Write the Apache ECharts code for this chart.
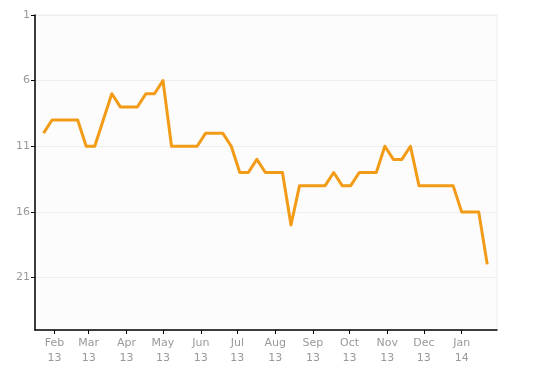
<!DOCTYPE html>
<html>
<head>
<meta charset="utf-8">
<script src="https://cdn.jsdelivr.net/npm/echarts@6/dist/echarts.min.js"></script>
<style>
  html, body { margin: 0; padding: 0; background: #ffffff; }
  #chart { width: 535px; height: 372px; }
</style>
</head>
<body>
<div id="chart"></div>
<script>
// Weekly dates (first week) and ranks
const startDate = '2013-01-23';
const ranks = [10, 9, 9, 9, 9, 11, 11, 9, 7, 8, 8, 8, 7, 7, 6, 11, 11, 11, 11, 10,
               10, 10, 11, 13, 13, 12, 13, 13, 13, 17, 14, 14, 14, 14, 13, 14, 14, 13, 13, 13,
               11, 12, 12, 11, 14, 14, 14, 14, 14, 16, 16, 16, 20];
const yTicks = [1, 6, 11, 16, 21];
const monthTickDates = ['2013-02-01', '2013-03-01', '2013-04-01', '2013-05-01', '2013-06-01', '2013-07-01',
                        '2013-08-01', '2013-09-01', '2013-10-01', '2013-11-01', '2013-12-01', '2014-01-01'];
const monthLabels = ['Feb\n13', 'Mar\n13', 'Apr\n13', 'May\n13', 'Jun\n13', 'Jul\n13',
                     'Aug\n13', 'Sep\n13', 'Oct\n13', 'Nov\n13', 'Dec\n13', 'Jan\n14'];
const xMin = '2013-01-16';
const xMax = '2014-01-30';

function toTs(s) {
  const p = s.split('-').map(Number);
  return Date.UTC(p[0], p[1] - 1, p[2]);
}
const startTs = toTs(startDate);
const DAY = 86400000;
const seriesData = ranks.map((r, i) => [startTs + i * 7 * DAY, r]);
const monthTs = monthTickDates.map(toTs);

const chart = echarts.init(document.getElementById('chart'), null, { renderer: 'canvas' });
const labelFont = { color: '#999999', fontFamily: 'DejaVu Sans', fontSize: 11 };

chart.setOption({
  animation: false,
  backgroundColor: '#ffffff',
  grid: {
    left: 35, right: 38, top: 15, bottom: 42,
    show: true, backgroundColor: '#fcfcfc', borderColor: '#ececec', borderWidth: 1
  },
  xAxis: {
    type: 'value',
    min: toTs(xMin),
    max: toTs(xMax),
    axisLine: { show: true, lineStyle: { color: '#000000', width: 1.5 } },
    axisTick: { show: true, length: 4, customValues: monthTs, lineStyle: { color: '#000000' } },
    axisLabel: Object.assign({
      customValues: monthTs,
      margin: 6,
      lineHeight: 15,
      hideOverlap: false,
      formatter: function (v) {
        const idx = monthTs.findIndex(t => Math.abs(t - v) < DAY);
        return idx >= 0 ? monthLabels[idx] : '';
      }
    }, labelFont),
    splitLine: { show: false }
  },
  yAxis: {
    type: 'value',
    inverse: true,
    min: 1,
    max: 25,
    axisLine: { show: true, lineStyle: { color: '#000000', width: 1.5 } },
    axisTick: { show: true, length: 4, customValues: yTicks, lineStyle: { color: '#000000' } },
    axisLabel: Object.assign({ customValues: yTicks, margin: 5 }, labelFont),
    splitLine: { show: true, lineStyle: { color: '#eeeeee', width: 1 } }
  },
  series: [{
    type: 'line',
    data: seriesData,
    showSymbol: false,
    symbol: 'none',
    lineStyle: { color: '#f29b17', width: 3, join: 'round' },
    itemStyle: { color: '#f29b17' }
  }]
});
</script>
</body>
</html>
